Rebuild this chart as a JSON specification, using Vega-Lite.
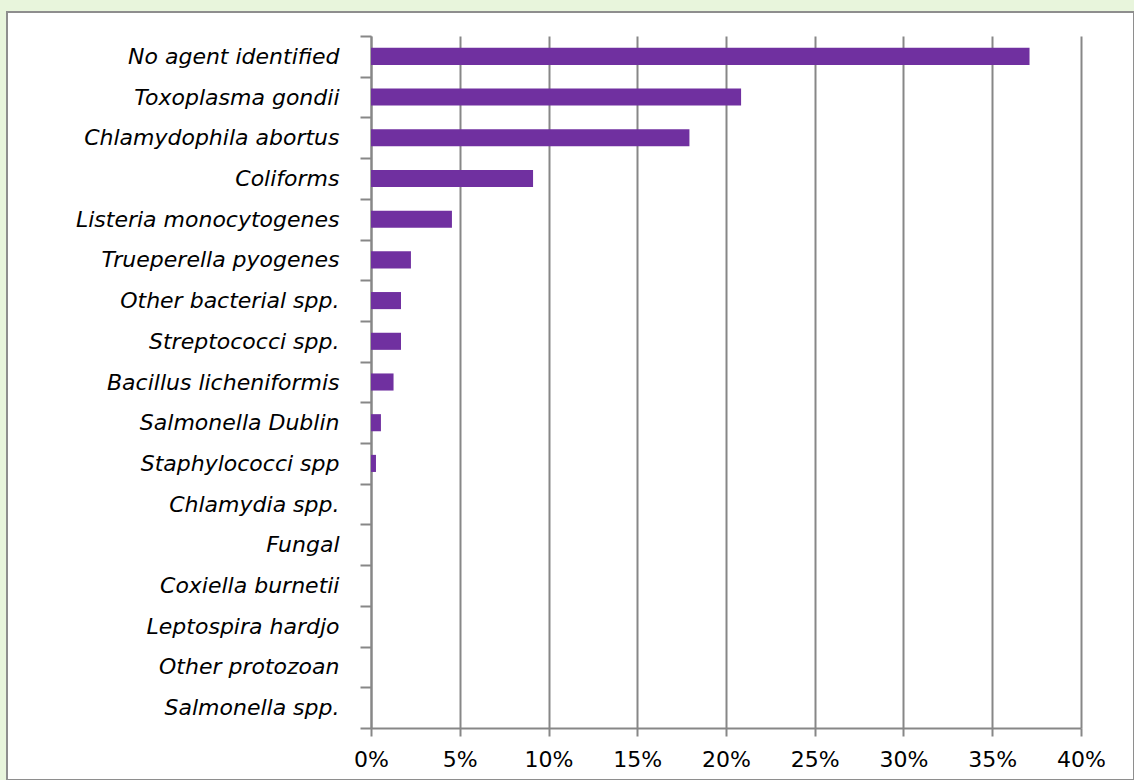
{
  "$schema": "https://vega.github.io/schema/vega-lite/v6.json",
  "autosize": "none",
  "padding": {"left": 7, "top": 12, "right": 0, "bottom": 0},
  "width": 1127,
  "height": 768,
  "background": "#E8F5DC",
  "config": {
    "view": {"fill": "#FFFFFF", "stroke": "#8E8E8E", "strokeWidth": 2},
    "axis": {
      "domainColor": "#878787",
      "domainWidth": 2,
      "tickColor": "#878787",
      "tickWidth": 2,
      "gridColor": "#878787",
      "gridWidth": 2,
      "gridOpacity": 1,
      "labelColor": "#000000",
      "labelFont": "DejaVu Sans",
      "title": null
    }
  },
  "data": {
    "values": [
      {"agent": "No agent identified", "share": 0.371},
      {"agent": "Toxoplasma gondii", "share": 0.2085},
      {"agent": "Chlamydophila abortus", "share": 0.1794},
      {"agent": "Coliforms", "share": 0.0913},
      {"agent": "Listeria monocytogenes", "share": 0.0456},
      {"agent": "Trueperella pyogenes", "share": 0.0225},
      {"agent": "Other bacterial  spp.", "share": 0.0169},
      {"agent": "Streptococci spp.", "share": 0.0169},
      {"agent": "Bacillus licheniformis", "share": 0.0127},
      {"agent": "Salmonella Dublin", "share": 0.0056},
      {"agent": "Staphylococci spp", "share": 0.0028},
      {"agent": "Chlamydia spp.", "share": 0},
      {"agent": "Fungal", "share": 0},
      {"agent": "Coxiella burnetii", "share": 0},
      {"agent": "Leptospira hardjo", "share": 0},
      {"agent": "Other protozoan", "share": 0},
      {"agent": "Salmonella spp.", "share": 0}
    ]
  },
  "encoding": {
    "y": {
      "field": "agent",
      "type": "nominal",
      "sort": null,
      "scale": {"range": [24, 716], "paddingInner": 0, "paddingOuter": 0},
      "axis": {
        "orient": "left",
        "offset": -364,
        "tickBand": "extent",
        "tickSize": 11,
        "labelPadding": 21,
        "labelFontSize": 22,
        "labelFontStyle": "italic",
        "labelLimit": 360,
        "grid": false
      }
    }
  },
  "layer": [
    {
      "mark": {"type": "bar", "opacity": 0, "height": {"band": 0.42}},
      "encoding": {
        "x": {
          "field": "share",
          "type": "quantitative",
          "scale": {"domain": [0, 0.4], "range": [364, 1074], "nice": false},
          "axis": {
            "orient": "top",
            "values": [0, 0.05, 0.1, 0.15, 0.2, 0.25, 0.3, 0.35, 0.4],
            "grid": true,
            "labels": false,
            "ticks": false,
            "domain": false
          }
        }
      }
    },
    {
      "mark": {"type": "bar", "color": "#7030A0", "height": {"band": 0.42}},
      "encoding": {
        "x": {
          "field": "share",
          "type": "quantitative",
          "scale": {"domain": [0, 0.4], "range": [364, 1074], "nice": false},
          "axis": {
            "orient": "bottom",
            "offset": -52,
            "values": [0, 0.05, 0.1, 0.15, 0.2, 0.25, 0.3, 0.35, 0.4],
            "format": ".0%",
            "tickSize": 8,
            "labelPadding": 13,
            "labelFontSize": 22,
            "labelFlush": false,
            "grid": false
          }
        }
      }
    }
  ],
  "resolve": {"axis": {"x": "independent"}}
}
